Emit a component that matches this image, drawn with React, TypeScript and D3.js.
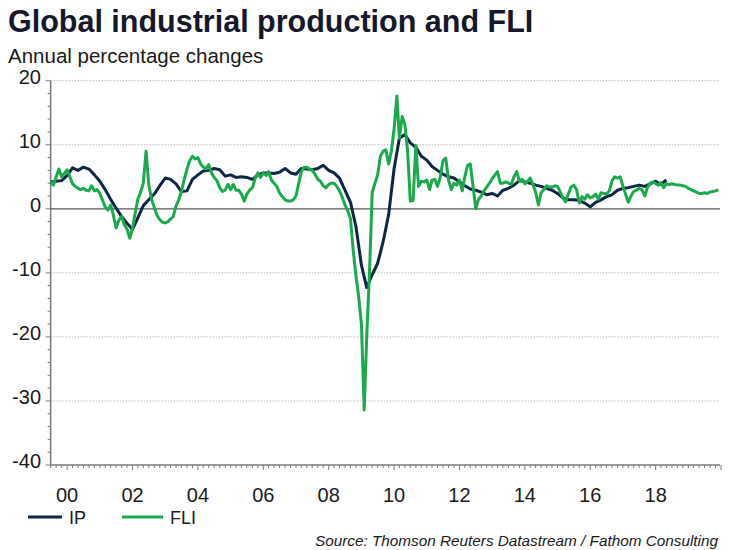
import React from "react";
import * as d3 from "d3";

const TITLE = "Global industrial production and FLI";
const SUBTITLE = "Annual percentage changes";
const SOURCE = "Source: Thomson Reuters Datastream / Fathom Consulting";

// Monthly FLI from Jul 1999
const FLI_START: [number, number] = [1999, 6];
const fliValues = [
  4.3, 3.7, 5.0, 6.2, 5.0, 5.5, 6.1, 5.0, 3.9, 3.5, 3.2, 3.0,
  3.2, 2.9, 2.8, 3.6, 2.8, 3.0, 2.4, 1.3, 0.3, -0.2, 0.6, -1.0,
  -3.0, -1.8, -1.2, -2.5, -3.2, -4.6, -3.0, -0.5, 1.5, 2.6, 4.0, 9.0,
  3.8, 1.5, 0.2, -1.0, -1.7, -2.1, -2.2, -2.0, -1.6, -1.2, 0.4, 1.4,
  2.7, 4.6, 6.2, 7.5, 8.2, 7.8, 8.0, 7.0, 6.5, 6.3, 6.9, 5.6,
  4.9, 4.4, 3.3, 2.7, 2.9, 3.8, 3.0, 3.8, 2.9, 2.9, 2.3, 1.2,
  2.3, 2.9, 3.3, 4.7, 5.6, 4.9, 5.6, 5.2, 5.8, 4.5, 4.0, 3.5,
  2.5, 1.9, 1.4, 1.2, 1.2, 1.4, 2.0, 4.0, 5.8, 6.5, 6.5, 6.2,
  6.0, 5.4, 4.6, 4.3, 3.6, 3.3, 3.8, 4.0, 4.0, 3.5, 2.8, 1.8,
  0.6, -0.3, -1.6, -6.5, -10.5, -13.7, -18.0, -31.4, -20.0, -10.0, 2.5, 4.0,
  5.3, 8.2, 9.0, 9.2, 7.0, 9.0, 12.5, 17.6, 11.0, 14.4, 13.2, 9.0,
  1.2, 1.3, 9.9, 3.5, 4.3, 4.2, 4.5, 3.0, 4.5, 4.6, 3.5, 5.0,
  7.5, 7.9, 4.5, 3.0, 4.0, 3.7, 4.5, 2.8, 5.0, 6.8, 7.0, 3.5,
  0.0, 1.5, 2.0, 2.8, 3.4, 4.0, 4.7, 5.3, 5.8, 4.0, 4.0, 4.2,
  4.0, 3.8, 5.0, 5.8, 4.3, 4.6, 3.9, 4.3, 4.8, 3.8, 2.6, 0.6,
  2.5, 3.0, 3.6, 3.4, 3.4, 3.6, 3.5, 2.6, 1.7, 1.1, 2.3, 3.4,
  3.7, 3.0, 0.9, 1.9, 1.5, 2.2, 1.7, 1.9, 2.3, 1.5, 2.5, 2.4,
  2.3, 2.8, 4.4, 5.0, 4.8, 5.0, 3.5, 2.2, 1.0, 2.0, 2.7, 2.9,
  3.2, 3.0, 2.0, 3.3, 4.0, 4.2, 3.9, 3.7, 4.1, 3.3, 3.9, 3.8,
  3.9, 3.8, 3.7, 3.7, 3.6, 3.5, 3.2, 3.0, 2.8, 2.6, 2.4, 2.4,
  2.5, 2.4, 2.6, 2.7, 2.8, 3.0,
];

// Bi-monthly IP from Jul 1999
const IP_START: [number, number] = [1999, 6];
const ipValues = [
  4.2, 4.3, 4.4, 5.2, 6.4, 6.0, 6.5, 6.2, 5.3, 4.3, 3.0, 1.5,
  0.1, -1.2, -2.3, -3.2, -1.4, 0.5, 1.4, 2.3, 3.6, 4.8, 4.6, 3.9,
  2.7, 2.8, 4.6, 5.3, 5.9, 6.0, 6.3, 6.1, 5.1, 5.3, 4.9, 5.0,
  4.9, 4.6, 5.3, 5.6, 5.6, 5.5, 5.7, 6.3, 5.6, 5.4, 6.3, 6.2,
  6.1, 6.3, 6.8, 6.0, 5.6, 4.8, 2.9, 1.0, -2.8, -8.8, -12.3, -10.3,
  -8.5, -5.1, -0.9, 6.3, 11.0, 11.6, 10.3, 9.6, 8.2, 7.6, 6.6, 6.0,
  5.4, 5.0, 4.8, 4.2, 3.6, 3.1, 2.9, 2.6, 2.2, 2.4, 2.0, 2.9,
  3.2, 3.7, 4.4, 4.2, 4.0, 3.7, 3.5, 3.2, 2.9, 2.4, 1.7, 1.4,
  1.4, 1.3, 0.9, 0.3, 1.0, 1.4, 1.9, 2.2, 2.9, 3.2, 3.3, 3.5,
  3.7, 3.5, 3.9, 4.3, 3.8, 4.5,
];

const yTicks = [20, 10, 0, -10, -20, -30, -40];
const xTickYears = [2000, 2002, 2004, 2006, 2008, 2010, 2012, 2014, 2016, 2018];

const IP_COLOR = "#0c2646";
const FLI_COLOR = "#19aa4b";
const FONT = "'Liberation Sans', Arial, Helvetica, sans-serif";

type Pt = { date: Date; value: number };

function series(start: [number, number], step: number, vals: number[]): Pt[] {
  const s = new Date(start[0], start[1], 1);
  return vals.map((v, i) => ({ date: d3.timeMonth.offset(s, i * step), value: v }));
}

export default function App() {
  const W = 745, H = 550;
  const left = 50.65, right = 721, top = 80.7, bottom = 465;
  const x = d3.scaleTime().domain([new Date(1999, 6, 1), new Date(2020, 0, 1)]).range([left, right]);
  const y = d3.scaleLinear().domain([-40, 20]).range([bottom, top]);

  const fli = series(FLI_START, 1, fliValues);
  const ip = series(IP_START, 2, ipValues);

  const line = d3.line<Pt>().x((d) => x(d.date)).y((d) => y(d.value));

  const minorY = d3.range(-40, 21, 2);
  const minorX = d3.timeMonth.every(2)!.range(new Date(1999, 6, 1), new Date(2020, 0, 2));
  const gridEnd = 720;

  return (
    <svg width={W} height={H} style={{ position: "absolute", left: 0, top: 0, background: "#fff" }} fontFamily={FONT}>
      <text x={8} y={32} fontSize={30.5} fontWeight="bold" fill="#15172b">{TITLE}</text>
      <text x={8} y={63} fontSize={20.5} fill="#1a1a1a">{SUBTITLE}</text>

      {/* gridlines */}
      {yTicks.filter((t) => t !== 0 && t !== -40).map((t) => (
        <line key={"g" + t} x1={left} x2={gridEnd} y1={y(t)} y2={y(t)} stroke="#b8b8b8" strokeWidth={1} strokeDasharray="1.5,1.5" />
      ))}

      {/* y axis */}
      <line x1={left} x2={left} y1={top} y2={bottom} stroke="#7a7a7a" strokeWidth={1.5} />
      {minorY.map((t) => (
        <line key={"my" + t} x1={left - (t % 10 === 0 ? 5 : 3)} x2={left} y1={y(t)} y2={y(t)} stroke="#7a7a7a" strokeWidth={1} />
      ))}
      {yTicks.map((t) => (
        <text key={"yl" + t} x={41} y={y(t) + 3} fontSize={20} textAnchor="end" fill="#1a1a1a">{t}</text>
      ))}

      {/* x axis */}
      <line x1={left} x2={gridEnd} y1={bottom} y2={bottom} stroke="#7a7a7a" strokeWidth={1.5} />
      {minorX.map((d, i) => {
        const major = d.getMonth() === 0 && d.getFullYear() % 2 === 0;
        return <line key={"mx" + i} x1={x(d)} x2={x(d)} y1={bottom} y2={bottom + (major ? 5 : 3)} stroke="#7a7a7a" strokeWidth={1} />;
      })}
      {xTickYears.map((yr) => (
        <text key={"xl" + yr} x={x(new Date(yr, 0, 1))} y={502} fontSize={20} textAnchor="middle" fill="#1a1a1a">
          {String(yr % 100).padStart(2, "0")}
        </text>
      ))}

      {/* zero line */}
      <line x1={left} x2={gridEnd} y1={y(0)} y2={y(0)} stroke="#555" strokeWidth={1.2} />

      {/* series */}
      <path d={line(ip) || ""} fill="none" stroke={IP_COLOR} strokeWidth={3} strokeLinejoin="round" />
      <path d={line(fli) || ""} fill="none" stroke={FLI_COLOR} strokeWidth={3} strokeLinejoin="round" />

      {/* legend */}
      <line x1={28} x2={62} y1={517} y2={517} stroke={IP_COLOR} strokeWidth={3} />
      <text x={69} y={523.5} fontSize={18} fill="#1a1a1a">IP</text>
      <line x1={122} x2={163} y1={517} y2={517} stroke={FLI_COLOR} strokeWidth={3} />
      <text x={170} y={523.5} fontSize={18} fill="#1a1a1a">FLI</text>

      <text x={718} y={546} fontSize={15.3} fontStyle="italic" textAnchor="end" fill="#1a1a1a">{SOURCE}</text>
    </svg>
  );
}
